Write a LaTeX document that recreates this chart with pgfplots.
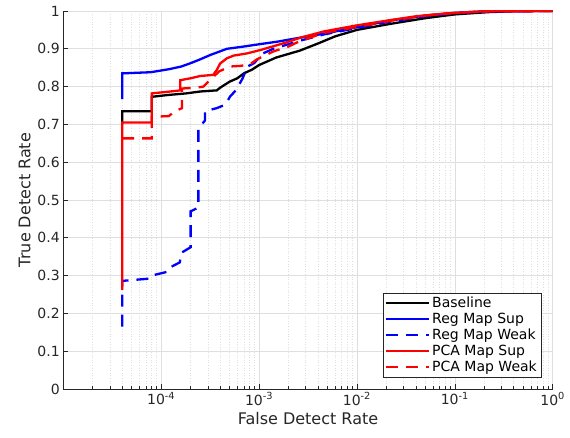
\documentclass[border=0pt]{standalone}
\usepackage{fontspec}
\setmainfont{DejaVu Sans}
\usepackage{pgfplots}
\pgfplotsset{compat=1.18}
\definecolor{axgray}{RGB}{38,38,38}
\definecolor{gridgray}{RGB}{223,223,223}
\begin{document}
\begin{tikzpicture}
  \begin{axis}[
    scale only axis,
    width=489.4pt, height=378pt,
    xmode=log,
    xmin=1e-5, xmax=1, ymin=0, ymax=1,
    axis x line*=bottom, axis y line*=left,
    axis line style={color=axgray, line width=0.6pt},
    xtick={1e-5,1e-4,1e-3,1e-2,1e-1,1},
    xticklabels={,10\textsuperscript{-4},10\textsuperscript{-3},10\textsuperscript{-2},10\textsuperscript{-1},10\textsuperscript{0}},
    ytick={0,0.1,0.2,0.3,0.4,0.5,0.6,0.7,0.8,0.9,1},
    yticklabels={0,0.1,0.2,0.3,0.4,0.5,0.6,0.7,0.8,0.9,1},
    tick align=inside,
    major tick length=5pt, minor tick length=3pt,
    tick style={color=axgray, line width=0.6pt},
    grid=both,
    major grid style={color=gridgray, line width=0.6pt},
    minor grid style={color=gridgray, line width=0.6pt, dotted},
    /pgf/number format/assume math mode=true,
    ticklabel style={font=\fontsize{14}{16}\selectfont, color=axgray},
    xlabel={False Detect Rate},
    ylabel={True Detect Rate},
    label style={font=\fontsize{16}{18}\selectfont, color=axgray},
    legend cell align=left,
    legend style={at={(axis description cs:1,0)}, anchor=south east,
      xshift=-11.7pt, yshift=12pt,
      font=\fontsize{14}{16}\selectfont, draw=axgray, fill=white,
      inner xsep=2pt, inner ysep=1.5pt, row sep=0pt},
    legend image code/.code={\draw[#1] (0pt,0pt) -- (43pt,0pt);},
    every axis plot/.append style={line width=2.3pt},
  ]
    \addplot[black] coordinates {
      (4e-5,0.70)(4e-5,0.735)(8e-5,0.735)(8e-5,0.773)(1.2e-4,0.778)(1.8e-4,0.782)
      (2.5e-4,0.787)(3.7e-4,0.790)(4e-4,0.797)(5e-4,0.813)(6e-4,0.822)(7e-4,0.835)
      (8.5e-4,0.845)(1e-3,0.857)(1.5e-3,0.877)(2.6e-3,0.895)(4e-3,0.914)(6e-3,0.933)
      (1e-2,0.950)(2.2e-2,0.966)(5e-2,0.981)(1e-1,0.991)(2.2e-1,0.997)(5e-1,1)(1,1)};
    \addplot[blue] coordinates {
      (4e-5,0.767)(4e-5,0.835)(7.8e-5,0.838)(1.2e-4,0.846)(1.6e-4,0.853)(2e-4,0.862)
      (2.5e-4,0.872)(3.2e-4,0.884)(4.7e-4,0.900)(7e-4,0.906)(1e-3,0.912)(1.55e-3,0.919)
      (2.7e-3,0.930)(4.6e-3,0.940)(1e-2,0.957)(2.2e-2,0.975)(5e-2,0.988)(1e-1,0.995)
      (2e-1,0.999)(1,1)};
    \addplot[blue, dash pattern=on 12pt off 8pt] coordinates {
      (4e-5,0.165)(4e-5,0.286)(7.6e-5,0.292)(8e-5,0.300)(1.15e-4,0.310)(1.2e-4,0.320)
      (1.55e-4,0.335)(1.6e-4,0.36)(2e-4,0.375)(2e-4,0.47)(2.4e-4,0.48)(2.4e-4,0.69)
      (2.8e-4,0.71)(2.8e-4,0.735)(3.7e-4,0.743)(4.5e-4,0.752)(5.1e-4,0.775)(5.8e-4,0.79)
      (6.8e-4,0.822)(7.6e-4,0.853)(8.9e-4,0.862)(1.1e-3,0.888)(1.4e-3,0.9)(2.5e-3,0.92)
      (4.6e-3,0.938)(1e-2,0.955)(2.2e-2,0.972)(5e-2,0.986)(1e-1,0.994)(2.2e-1,0.999)(1,1)};
    \addplot[red] coordinates {
      (4e-5,0.262)(4e-5,0.705)(8e-5,0.705)(8e-5,0.782)(1.24e-4,0.787)(1.57e-4,0.790)
      (1.57e-4,0.817)(2e-4,0.822)(2.5e-4,0.828)(3.4e-4,0.831)(3.7e-4,0.844)(4e-4,0.861)
      (4.7e-4,0.875)(5.5e-4,0.882)(7.6e-4,0.888)(1.04e-3,0.897)(1.8e-3,0.915)(2.7e-3,0.930)
      (4.6e-3,0.946)(1e-2,0.962)(2.2e-2,0.976)(4e-2,0.986)(8.5e-2,0.994)(1.9e-1,0.999)(1,1)};
    \addplot[red, dash pattern=on 12pt off 8pt] coordinates {
      (4e-5,0.663)(8e-5,0.663)(8e-5,0.720)(1.2e-4,0.722)(1.35e-4,0.733)(1.63e-4,0.743)
      (1.63e-4,0.795)(2.3e-4,0.797)(2.7e-4,0.80)(3.3e-4,0.822)(3.9e-4,0.84)(5e-4,0.853)
      (6.6e-4,0.855)(8.3e-4,0.861)(9.5e-4,0.872)(1.4e-3,0.893)(2e-3,0.906)(2.6e-3,0.92)
      (4.6e-3,0.942)(1e-2,0.958)(2.2e-2,0.974)(5e-2,0.988)(1e-1,0.995)(2e-1,0.999)(1,1)};
    \legend{Baseline, Reg Map Sup, Reg Map Weak, PCA Map Sup, PCA Map Weak}
  \end{axis}
  \path (current axis.south west) ++(-63.3pt,-49pt);
  \path (current axis.north east) ++(17.3pt,11pt);
\end{tikzpicture}
\end{document}
